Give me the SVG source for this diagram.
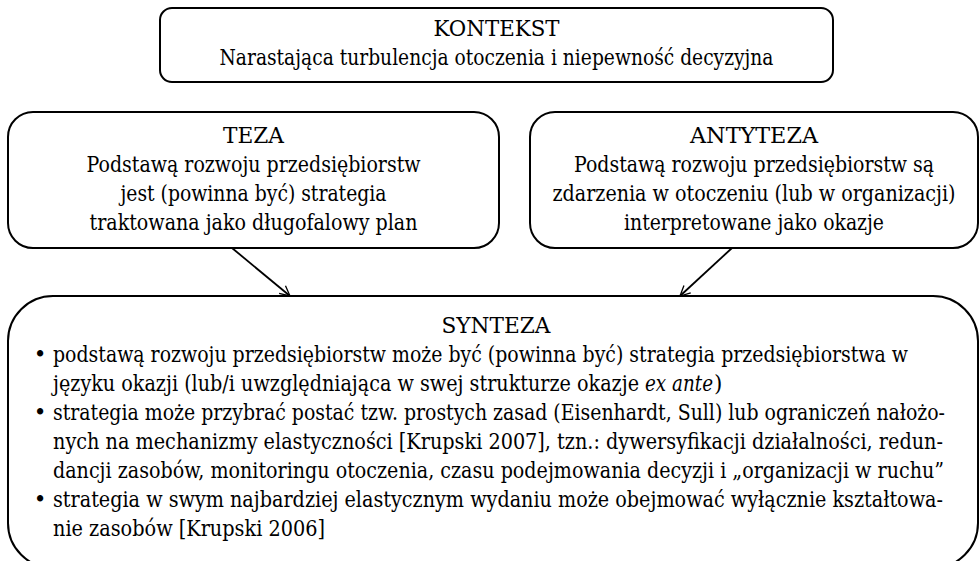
<svg xmlns="http://www.w3.org/2000/svg" width="980" height="561" viewBox="0 0 980 561">
<defs>
<marker id="arr" viewBox="0 0 12 12" refX="11" refY="6" markerWidth="12" markerHeight="12" markerUnits="userSpaceOnUse" orient="auto">
<path d="M1,1 L11,6 L1,11" fill="none" stroke="#000" stroke-width="1.3"/>
</marker>
<style>
.box{fill:#fff;stroke:#000;stroke-width:2}
text{font-family:'DejaVu Serif','Liberation Serif',serif;font-size:21.5px;fill:#000}
.c{text-anchor:middle}
.i{font-style:italic}
.conn{stroke:#000;stroke-width:1.8;fill:none}
</style>
</defs>
<rect width="980" height="561" fill="#fff"/>
<g id="kontekst">
<rect class="box" x="160" y="8" width="673" height="74" rx="12"/>
<text class="c" x="496.5" y="36" textLength="126" lengthAdjust="spacingAndGlyphs">KONTEKST</text>
<text class="c" x="496.5" y="65" textLength="554" lengthAdjust="spacingAndGlyphs">Narastająca turbulencja otoczenia i niepewność decyzyjna</text>
</g>
<g id="teza">
<rect class="box" x="8" y="112" width="491" height="136" rx="25"/>
<text class="c" x="253.5" y="143" textLength="61" lengthAdjust="spacingAndGlyphs">TEZA</text>
<text class="c" x="253.5" y="172" textLength="334" lengthAdjust="spacingAndGlyphs">Podstawą rozwoju przedsiębiorstw</text>
<text class="c" x="253.5" y="201" textLength="266" lengthAdjust="spacingAndGlyphs">jest (powinna być) strategia</text>
<text class="c" x="253.5" y="230" textLength="328" lengthAdjust="spacingAndGlyphs">traktowana jako długofalowy plan</text>
</g>
<g id="antyteza">
<rect class="box" x="530" y="112" width="448" height="136" rx="25"/>
<text class="c" x="754" y="143" textLength="128" lengthAdjust="spacingAndGlyphs">ANTYTEZA</text>
<text class="c" x="754" y="172" textLength="360" lengthAdjust="spacingAndGlyphs">Podstawą rozwoju przedsiębiorstw są</text>
<text class="c" x="754" y="201" textLength="403" lengthAdjust="spacingAndGlyphs">zdarzenia w otoczeniu (lub w organizacji)</text>
<text class="c" x="754" y="230" textLength="260" lengthAdjust="spacingAndGlyphs">interpretowane jako okazje</text>
</g>
<g id="synteza">
<rect class="box" x="8" y="296" width="970" height="272" rx="45"/>
<text class="c" x="496" y="333" textLength="109" lengthAdjust="spacingAndGlyphs">SYNTEZA</text>
<text class="c" x="40" y="362">•</text>
<text x="53" y="362" textLength="855" lengthAdjust="spacingAndGlyphs">podstawą rozwoju przedsiębiorstw może być (powinna być) strategia przedsiębiorstwa w</text>
<text x="53" y="391" textLength="586" lengthAdjust="spacingAndGlyphs">języku okazji (lub/i uwzględniająca w swej strukturze okazje</text>
<text class="i" x="645" y="391" textLength="68" lengthAdjust="spacingAndGlyphs">ex ante</text>
<text x="714" y="391">)</text>
<text class="c" x="40" y="420">•</text>
<text x="53" y="420" textLength="892" lengthAdjust="spacingAndGlyphs">strategia może przybrać postać tzw. prostych zasad (Eisenhardt, Sull) lub ograniczeń nałożo-</text>
<text x="53" y="449" textLength="890" lengthAdjust="spacingAndGlyphs">nych na mechanizmy elastyczności [Krupski 2007], tzn.: dywersyfikacji działalności, redun-</text>
<text x="53" y="478" textLength="891" lengthAdjust="spacingAndGlyphs">dancji zasobów, monitoringu otoczenia, czasu podejmowania decyzji i „organizacji w ruchu”</text>
<text class="c" x="40" y="507">•</text>
<text x="53" y="507" textLength="890" lengthAdjust="spacingAndGlyphs">strategia w swym najbardziej elastycznym wydaniu może obejmować wyłącznie kształtowa-</text>
<text x="53" y="536" textLength="272" lengthAdjust="spacingAndGlyphs">nie zasobów [Krupski 2006]</text>
</g>
<g id="connectors">
<line class="conn" x1="232" y1="248" x2="290" y2="296" marker-end="url(#arr)"/>
<line class="conn" x1="732" y1="248" x2="680" y2="296" marker-end="url(#arr)"/>
</g>
</svg>
